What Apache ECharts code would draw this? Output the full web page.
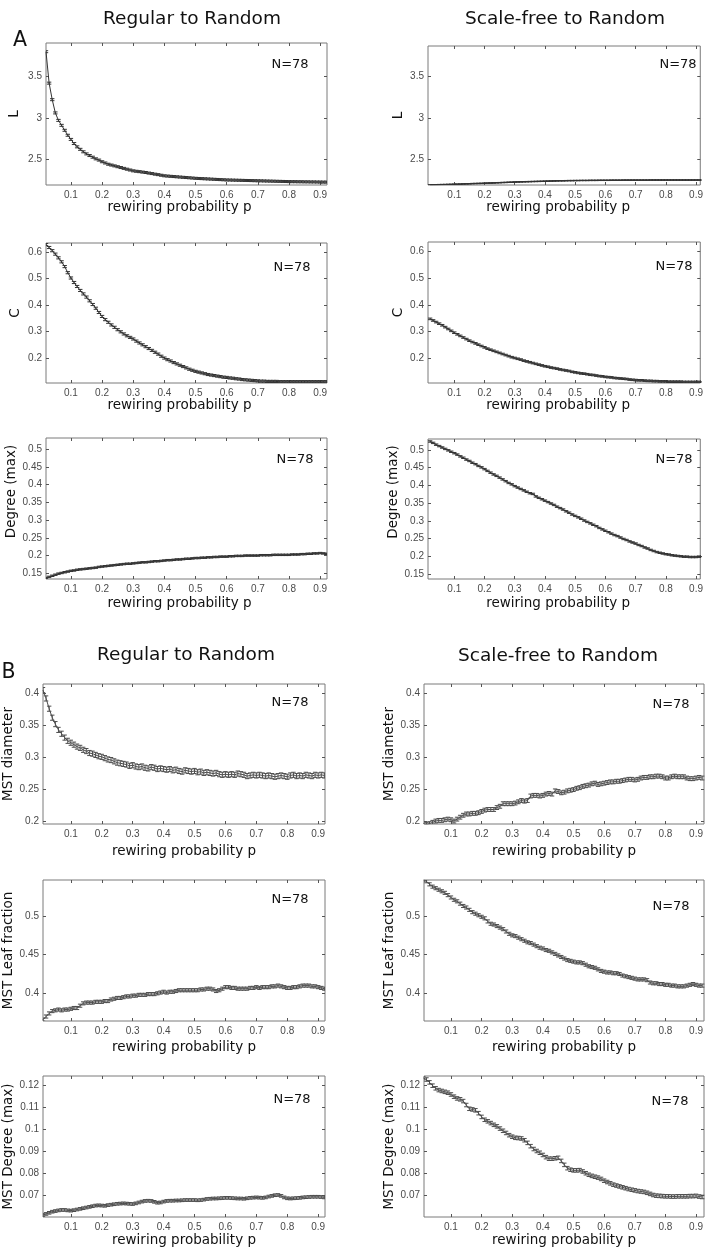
<!DOCTYPE html>
<html><head><meta charset="utf-8">
<script src="https://cdn.jsdelivr.net/npm/echarts@6/dist/echarts.min.js"></script>
<style>html,body{margin:0;padding:0;background:#fff}#c{width:706px;height:1249px}</style>
</head><body><div id="c"></div>
<script>
// ---------- data ----------
const pB = [0.01,0.02,0.03,0.04,0.05,0.06,0.07,0.08,0.09,0.10,
  0.11,0.12,0.13,0.14,0.15,0.16,0.17,0.18,0.19,0.20,
  0.21,0.22,0.23,0.24,0.25,0.26,0.27,0.28,0.29,0.30,
  0.31,0.32,0.33,0.34,0.35,0.36,0.37,0.38,0.39,0.40,
  0.41,0.42,0.43,0.44,0.45,0.46,0.47,0.48,0.49,0.50,
  0.51,0.52,0.53,0.54,0.55,0.56,0.57,0.58,0.59,0.60,
  0.61,0.62,0.63,0.64,0.65,0.66,0.67,0.68,0.69,0.70,
  0.71,0.72,0.73,0.74,0.75,0.76,0.77,0.78,0.79,0.80,
  0.81,0.82,0.83,0.84,0.85,0.86,0.87,0.88,0.89,0.90,
  0.91,0.92];
const pA = pB.slice(1);
const xTicks = [0.1,0.2,0.3,0.4,0.5,0.6,0.7,0.8,0.9];
const yTicksL = [2.5,3,3.5];
const yTicksC = [0.2,0.3,0.4,0.5,0.6];
const yTicksDeg = [0.15,0.2,0.25,0.3,0.35,0.4,0.45,0.5];
const yTicksDiam = [0.2,0.25,0.3,0.35,0.4];
const yTicksLeaf = [0.4,0.45,0.5];
const yTicksMstDeg = [0.07,0.08,0.09,0.1,0.11,0.12];

const regL = [3.80,3.42,3.22,3.06,2.97,2.91,2.85,2.79,2.74,
  2.69,2.65,2.62,2.59,2.565,2.545,2.525,2.505,2.49,2.47,
  2.455,2.44,2.43,2.42,2.41,2.40,2.39,2.38,2.37,2.36,
  2.355,2.35,2.345,2.34,2.333,2.327,2.32,2.314,2.307,2.30,
  2.297,2.294,2.291,2.288,2.285,2.282,2.279,2.276,2.273,2.27,
  2.268,2.266,2.264,2.262,2.26,2.258,2.256,2.254,2.252,2.25,
  2.249,2.248,2.247,2.246,2.245,2.244,2.243,2.242,2.241,2.24,
  2.239,2.238,2.237,2.236,2.235,2.234,2.233,2.232,2.231,2.23,
  2.229,2.229,2.228,2.228,2.227,2.227,2.226,2.226,2.225,2.225,
  2.224,2.224];
const sfL = [2.190,2.191,2.192,2.193,2.194,2.195,2.196,2.197,2.198,
  2.199,2.200,2.202,2.203,2.204,2.206,2.207,2.208,2.209,2.210,
  2.212,2.213,2.214,2.216,2.217,2.219,2.220,2.222,2.223,2.225,
  2.226,2.227,2.228,2.229,2.230,2.231,2.232,2.233,2.234,2.235,
  2.236,2.237,2.238,2.239,2.240,2.240,2.241,2.242,2.242,2.243,
  2.243,2.244,2.244,2.244,2.245,2.245,2.245,2.246,2.246,2.246,
  2.246,2.247,2.247,2.247,2.247,2.248,2.248,2.248,2.248,2.248,
  2.248,2.248,2.248,2.248,2.249,2.249,2.249,2.249,2.249,2.249,
  2.249,2.249,2.249,2.249,2.249,2.249,2.249,2.249,2.249,2.249,
  2.249,2.249];
const regC = [0.628,0.617,0.605,0.592,0.578,0.563,0.545,0.522,0.502,
  0.485,0.470,0.455,0.442,0.430,0.416,0.402,0.388,0.372,0.357,
  0.345,0.335,0.325,0.316,0.307,0.299,0.291,0.284,0.278,0.272,
  0.264,0.257,0.250,0.243,0.236,0.229,0.222,0.215,0.207,0.200,
  0.194,0.189,0.183,0.178,0.173,0.168,0.163,0.158,0.154,0.150,
  0.147,0.144,0.141,0.138,0.136,0.134,0.132,0.130,0.128,0.127,
  0.125,0.124,0.122,0.121,0.119,0.118,0.117,0.116,0.115,0.114,
  0.113,0.113,0.112,0.112,0.112,0.112,0.111,0.111,0.111,0.111,
  0.111,0.111,0.111,0.111,0.111,0.111,0.111,0.111,0.111,0.111,
  0.111,0.111];
const sfC = [0.347,0.341,0.335,0.329,0.323,0.316,0.309,0.302,0.295,
  0.289,0.283,0.277,0.271,0.265,0.260,0.255,0.250,0.245,0.240,
  0.235,0.231,0.227,0.223,0.219,0.215,0.211,0.207,0.203,0.200,
  0.197,0.194,0.190,0.187,0.184,0.181,0.178,0.175,0.172,0.169,
  0.167,0.164,0.162,0.160,0.157,0.155,0.153,0.151,0.148,0.146,
  0.144,0.142,0.141,0.139,0.137,0.136,0.134,0.132,0.131,0.129,
  0.128,0.127,0.125,0.124,0.123,0.122,0.121,0.119,0.118,0.117,
  0.116,0.116,0.115,0.114,0.114,0.113,0.113,0.112,0.112,0.112,
  0.111,0.111,0.111,0.111,0.111,0.110,0.110,0.110,0.110,0.110,
  0.110,0.110];
const regDeg = [0.137,0.140,0.143,0.146,0.149,0.151,0.153,0.155,0.157,
  0.158,0.160,0.161,0.162,0.163,0.164,0.165,0.166,0.168,0.169,
  0.170,0.171,0.172,0.173,0.174,0.175,0.176,0.177,0.177,0.178,
  0.179,0.180,0.181,0.181,0.182,0.183,0.184,0.184,0.185,0.186,
  0.187,0.187,0.188,0.189,0.189,0.190,0.191,0.191,0.192,0.193,
  0.193,0.194,0.194,0.195,0.195,0.196,0.196,0.197,0.197,0.197,
  0.198,0.198,0.199,0.199,0.199,0.200,0.200,0.200,0.200,0.200,
  0.201,0.201,0.201,0.201,0.202,0.202,0.202,0.202,0.202,0.202,
  0.203,0.203,0.203,0.204,0.204,0.205,0.205,0.206,0.206,0.207,
  0.206,0.205];
const sfDeg = [0.524,0.520,0.515,0.511,0.507,0.503,0.499,0.495,0.491,
  0.487,0.482,0.478,0.473,0.469,0.464,0.460,0.455,0.451,0.446,
  0.441,0.436,0.431,0.427,0.422,0.417,0.412,0.407,0.403,0.398,
  0.394,0.390,0.386,0.382,0.378,0.376,0.369,0.365,0.361,0.357,
  0.353,0.349,0.345,0.340,0.336,0.332,0.327,0.323,0.318,0.314,
  0.310,0.306,0.301,0.297,0.293,0.289,0.285,0.280,0.276,0.272,
  0.268,0.264,0.260,0.257,0.253,0.249,0.246,0.242,0.239,0.236,
  0.232,0.229,0.225,0.222,0.218,0.215,0.212,0.210,0.208,0.206,
  0.205,0.203,0.202,0.201,0.200,0.199,0.199,0.198,0.198,0.198,
  0.199,0.199];
const regDiam = [0.405,0.392,0.376,0.362,0.352,0.343,0.337,0.331,0.326,0.323,
  0.320,0.317,0.315,0.312,0.310,0.307,0.306,0.304,0.302,0.301,
  0.299,0.297,0.296,0.294,0.292,0.291,0.290,0.289,0.287,0.288,
  0.286,0.285,0.286,0.284,0.283,0.285,0.284,0.282,0.283,0.282,
  0.281,0.282,0.280,0.281,0.279,0.278,0.280,0.279,0.278,0.279,
  0.277,0.278,0.276,0.277,0.276,0.275,0.276,0.274,0.273,0.274,
  0.273,0.274,0.273,0.275,0.274,0.273,0.271,0.272,0.273,0.272,
  0.273,0.272,0.271,0.272,0.271,0.270,0.271,0.272,0.271,0.270,
  0.272,0.273,0.271,0.272,0.271,0.273,0.272,0.271,0.273,0.272,
  0.273,0.272];
const sfDiam = [0.197,0.196,0.197,0.199,0.201,0.202,0.202,0.203,0.204,0.203,
  0.201,0.204,0.207,0.210,0.212,0.212,0.213,0.213,0.214,0.216,
  0.218,0.219,0.219,0.219,0.222,0.224,0.228,0.228,0.228,0.228,
  0.229,0.231,0.233,0.232,0.233,0.240,0.241,0.241,0.240,0.241,
  0.243,0.244,0.243,0.248,0.247,0.245,0.246,0.248,0.249,0.250,
  0.252,0.253,0.255,0.256,0.257,0.259,0.260,0.258,0.259,0.260,
  0.261,0.262,0.262,0.263,0.263,0.264,0.265,0.266,0.266,0.265,
  0.266,0.268,0.269,0.269,0.270,0.270,0.271,0.271,0.270,0.268,
  0.268,0.270,0.271,0.270,0.270,0.270,0.268,0.267,0.267,0.268,
  0.269,0.268];
const regLeaf = [0.366,0.370,0.374,0.377,0.378,0.379,0.378,0.379,0.379,0.380,
  0.381,0.381,0.384,0.387,0.388,0.388,0.388,0.389,0.389,0.389,
  0.390,0.390,0.392,0.393,0.394,0.394,0.395,0.396,0.396,0.397,
  0.397,0.398,0.398,0.398,0.399,0.399,0.399,0.400,0.401,0.402,
  0.401,0.402,0.402,0.403,0.404,0.404,0.404,0.404,0.404,0.404,
  0.404,0.405,0.405,0.406,0.406,0.405,0.403,0.404,0.406,0.408,
  0.408,0.407,0.407,0.406,0.406,0.406,0.406,0.407,0.407,0.408,
  0.407,0.408,0.408,0.408,0.409,0.409,0.410,0.409,0.408,0.407,
  0.407,0.408,0.408,0.409,0.410,0.410,0.410,0.409,0.409,0.408,
  0.407,0.406];
const sfLeaf = [0.547,0.545,0.541,0.538,0.536,0.534,0.532,0.530,0.527,0.524,
  0.521,0.519,0.516,0.513,0.511,0.508,0.505,0.503,0.501,0.499,
  0.497,0.493,0.490,0.489,0.487,0.485,0.483,0.480,0.477,0.475,
  0.474,0.472,0.470,0.468,0.466,0.465,0.463,0.461,0.459,0.458,
  0.456,0.455,0.453,0.451,0.449,0.447,0.445,0.443,0.442,0.441,
  0.440,0.440,0.439,0.437,0.435,0.434,0.433,0.431,0.429,0.428,
  0.427,0.427,0.426,0.426,0.425,0.423,0.422,0.421,0.420,0.419,
  0.418,0.418,0.418,0.417,0.414,0.413,0.413,0.412,0.412,0.411,
  0.411,0.410,0.410,0.409,0.409,0.409,0.410,0.411,0.412,0.411,
  0.410,0.410];
const regMstDeg = [0.0612,0.0617,0.0622,0.0627,0.0630,0.0633,0.0635,0.0635,0.0633,0.0632,
  0.0634,0.0637,0.0640,0.0643,0.0646,0.0649,0.0652,0.0655,0.0656,0.0655,
  0.0654,0.0657,0.0659,0.0661,0.0663,0.0664,0.0665,0.0664,0.0663,0.0662,
  0.0665,0.0669,0.0673,0.0676,0.0677,0.0676,0.0672,0.0668,0.0669,0.0673,
  0.0676,0.0677,0.0677,0.0678,0.0678,0.0679,0.0680,0.0680,0.0680,0.0680,
  0.0679,0.0680,0.0682,0.0685,0.0686,0.0687,0.0687,0.0688,0.0689,0.0690,
  0.0690,0.0689,0.0688,0.0687,0.0687,0.0686,0.0688,0.0690,0.0691,0.0692,
  0.0691,0.0690,0.0692,0.0696,0.0699,0.0702,0.0703,0.0699,0.0692,0.0688,
  0.0687,0.0688,0.0689,0.0690,0.0692,0.0693,0.0694,0.0695,0.0695,0.0695,
  0.0694,0.0692];
const sfMstDeg = [0.1235,0.1228,0.1215,0.1200,0.1188,0.1180,0.1176,0.1172,0.1168,0.1160,
  0.1150,0.1142,0.1138,0.1130,0.1112,0.1095,0.1092,0.1088,0.1075,0.1058,
  0.1045,0.1038,0.1030,0.1022,0.1015,0.1005,0.0995,0.0985,0.0975,0.0968,
  0.0963,0.0962,0.0960,0.0952,0.0940,0.0925,0.0912,0.0903,0.0895,0.0885,
  0.0875,0.0868,0.0868,0.0870,0.0872,0.0858,0.0840,0.0825,0.0818,0.0815,
  0.0815,0.0816,0.0810,0.0802,0.0795,0.0790,0.0786,0.0782,0.0776,0.0768,
  0.0762,0.0756,0.0750,0.0746,0.0742,0.0738,0.0734,0.0730,0.0727,0.0724,
  0.0721,0.0719,0.0717,0.0713,0.0708,0.0703,0.0700,0.0699,0.0698,0.0697,
  0.0697,0.0696,0.0696,0.0697,0.0697,0.0697,0.0697,0.0698,0.0698,0.0699,
  0.0696,0.0694];

// error-bar half heights (one per panel)
const errRegL = 0.012, errSfL = 0.003;
const errRegC = 0.004, errSfC = 0.003;
const errRegDeg = 0.002, errSfDeg = 0.002;
const errRegDiam = 0.004, errSfDiam = 0.003;
const errRegLeaf = 0.002, errSfLeaf = 0.002;
const errRegMstDeg = 0.0006, errSfMstDeg = 0.0008;

const titleReg = 'Regular to Random';
const titleSf = 'Scale-free to Random';
const xName = 'rewiring probability p';
const nText = 'N=78';

// ---------- layout ----------
const AL = {x:46, w:281}, AR = {x:428, w:277}, BL = {x:43, w:282}, BR = {x:424, w:281};
const panels = [
  {c:AL, top:43,  h:142, xr:[0.02,0.922], yr:[2.189,3.905], t:yTicksL, yn:'L', yg:25, p:pA, v:regL, e:errRegL, n:[290,65], xg:15, sh:7, ys:0},
  {c:AR, top:46,  h:139, xr:[0.013,0.914], yr:[2.189,3.871], t:yTicksL, yn:'L', yg:23, p:pA, v:sfL, e:errSfL, n:[678,65], xg:15, sh:6, ys:0},
  {c:AL, top:243, h:140, xr:[0.02,0.922], yr:[0.106,0.634], t:yTicksC, yn:'C', yg:24, p:pA, v:regC, e:errRegC, n:[292,268], xg:15, sh:7, ys:0},
  {c:AR, top:242, h:141, xr:[0.013,0.914], yr:[0.106,0.636], t:yTicksC, yn:'C', yg:23, p:pA, v:sfC, e:errSfC, n:[674,267], xg:15, sh:6, ys:0},
  {c:AL, top:438, h:141, xr:[0.02,0.922], yr:[0.134,0.531], t:yTicksDeg, yn:'Degree (max)', yg:26, p:pA, v:regDeg, e:errRegDeg, n:[295,460], xg:17, sh:7, ys:34},
  {c:AR, top:439, h:140, xr:[0.013,0.914], yr:[0.136,0.531], t:yTicksDeg, yn:'Degree (max)', yg:28, p:pA, v:sfDeg, e:errSfDeg, n:[674,460], xg:17, sh:6, ys:34},
  {c:BL, top:684, h:140, xr:[0.01,0.922], yr:[0.1964,0.4145], t:yTicksDiam, yn:'MST diameter', yg:26, p:pB, v:regDiam, e:errRegDiam, n:[290,703], xg:20, sh:0, ys:0},
  {c:BR, top:684, h:140, xr:[0.012,0.926], yr:[0.1964,0.4145], t:yTicksDiam, yn:'MST diameter', yg:27, p:pB, v:sfDiam, e:errSfDiam, n:[671,705], xg:20, sh:0, ys:0},
  {c:BL, top:880, h:141, xr:[0.01,0.922], yr:[0.3642,0.5466], t:yTicksLeaf, yn:'MST Leaf fraction', yg:27, p:pB, v:regLeaf, e:errRegLeaf, n:[290,900], xg:19, sh:0, ys:0},
  {c:BR, top:880, h:141, xr:[0.012,0.926], yr:[0.3642,0.5466], t:yTicksLeaf, yn:'MST Leaf fraction', yg:26, p:pB, v:sfLeaf, e:errSfLeaf, n:[671,907], xg:19, sh:0, ys:0},
  {c:BL, top:1076, h:141, xr:[0.01,0.922], yr:[0.0603,0.1244], t:yTicksMstDeg, yn:'MST Degree (max)', yg:27, p:pB, v:regMstDeg, e:errRegMstDeg, n:[292,1100], xg:16, sh:0, ys:0},
  {c:BR, top:1076, h:141, xr:[0.012,0.926], yr:[0.0603,0.1244], t:yTicksMstDeg, yn:'MST Degree (max)', yg:26, p:pB, v:sfMstDeg, e:errSfMstDeg, n:[670,1102], xg:16, sh:0, ys:0}
];

const frameColor = '#7a7a7a', tickColor = '#555', labelColor = '#4a4a4a', lineColor = '#333';
const grids = [], xAxes = [], yAxes = [], series = [], graphics = [];
const fmt = v => String(+(+v).toFixed(4));

panels.forEach((P, i) => {
  grids.push({left:P.c.x, top:P.top, width:P.c.w, height:P.h, show:true, borderColor:frameColor, borderWidth:1, backgroundColor:'#fff'});
  const tickBase = {show:true, inside:true, length:3, lineStyle:{color:tickColor, width:1}};
  xAxes.push({type:'value', gridIndex:i, position:'bottom', min:P.xr[0], max:P.xr[1],
    axisLine:{show:false, onZero:false}, splitLine:{show:false},
    axisTick:Object.assign({customValues:xTicks}, tickBase),
    axisLabel:{customValues:xTicks, formatter:fmt, fontSize:10, color:labelColor, margin:5, fontFamily:'Liberation Sans'},
    name:xName, nameLocation:'middle', nameGap:P.xg,
    nameTextStyle:{fontSize:13.5, color:'#111', fontFamily:'DejaVu Sans', padding:[0, P.sh*2, 0, 0]}});
  xAxes.push({type:'value', gridIndex:i, position:'top', min:P.xr[0], max:P.xr[1],
    axisLine:{show:false, onZero:false}, splitLine:{show:false},
    axisTick:Object.assign({customValues:xTicks}, tickBase), axisLabel:{show:false}});
  yAxes.push({type:'value', gridIndex:i, position:'left', min:P.yr[0], max:P.yr[1],
    axisLine:{show:false, onZero:false}, splitLine:{show:false},
    axisTick:Object.assign({customValues:P.t}, tickBase),
    axisLabel:{customValues:P.t, formatter:fmt, fontSize:10, color:labelColor, margin:4, fontFamily:'Liberation Sans'},
    name:P.yn, nameLocation:'middle', nameGap:P.yg,
    nameTextStyle:{fontSize:13.5, color:'#111', fontFamily:'DejaVu Sans', padding:[0, 0, 0, P.ys]}});
  yAxes.push({type:'value', gridIndex:i, position:'right', min:P.yr[0], max:P.yr[1],
    axisLine:{show:false, onZero:false}, splitLine:{show:false},
    axisTick:Object.assign({customValues:P.t}, tickBase), axisLabel:{show:false}});
  const isB = i >= 6;
  const col = isB ? '#4d4d4d' : lineColor;
  series.push({type:'line', xAxisIndex:2*i, yAxisIndex:2*i, data:P.p.map((x, j) => [x, P.v[j]]),
    symbol:'none', showSymbol:false, silent:true, animation:false, clip:true,
    lineStyle:{color:col, width:1}});
  const cap = 2.2;
  series.push({type:'custom', xAxisIndex:2*i, yAxisIndex:2*i, clip:true, silent:true, animation:false,
    data:P.p.map((x, j) => [x, P.v[j] - P.e, P.v[j] + P.e]),
    encode:{x:0, y:[1,2]},
    renderItem:(params, api) => {
      const lo = api.coord([api.value(0), api.value(1)]);
      const hi = api.coord([api.value(0), api.value(2)]);
      const st = {stroke:col, lineWidth:1};
      return {type:'group', children:[
        {type:'line', shape:{x1:lo[0], y1:lo[1], x2:hi[0], y2:hi[1]}, style:st},
        {type:'line', shape:{x1:lo[0]-cap, y1:lo[1], x2:lo[0]+cap, y2:lo[1]}, style:st},
        {type:'line', shape:{x1:hi[0]-cap, y1:hi[1], x2:hi[0]+cap, y2:hi[1]}, style:st}
      ]};
    }});
  graphics.push({type:'text', x:P.n[0], y:P.n[1], style:{text:nText, fill:'#111', fontSize:13, fontFamily:'DejaVu Sans', align:'center', verticalAlign:'middle'}});
});

const txt = (s, x, y, size) => ({type:'text', x, y, style:{text:s, fill:'#111', fontSize:size, fontFamily:'DejaVu Sans', align:'center', verticalAlign:'middle'}});
graphics.push(txt(titleReg, 192, 19, 18.5));
graphics.push(txt(titleSf, 565, 19, 18.5));
graphics.push(txt(titleReg, 186, 655, 18.5));
graphics.push(txt(titleSf, 558, 656, 18.5));
graphics.push(txt('A', 20, 41, 20.5));
graphics.push(txt('B', 8.5, 673, 20.5));

const chart = echarts.init(document.getElementById('c'), null, {renderer:'canvas'});
chart.setOption({animation:false, backgroundColor:'#fff', grid:grids, xAxis:xAxes, yAxis:yAxes, series, graphic:graphics});
</script></body></html>
